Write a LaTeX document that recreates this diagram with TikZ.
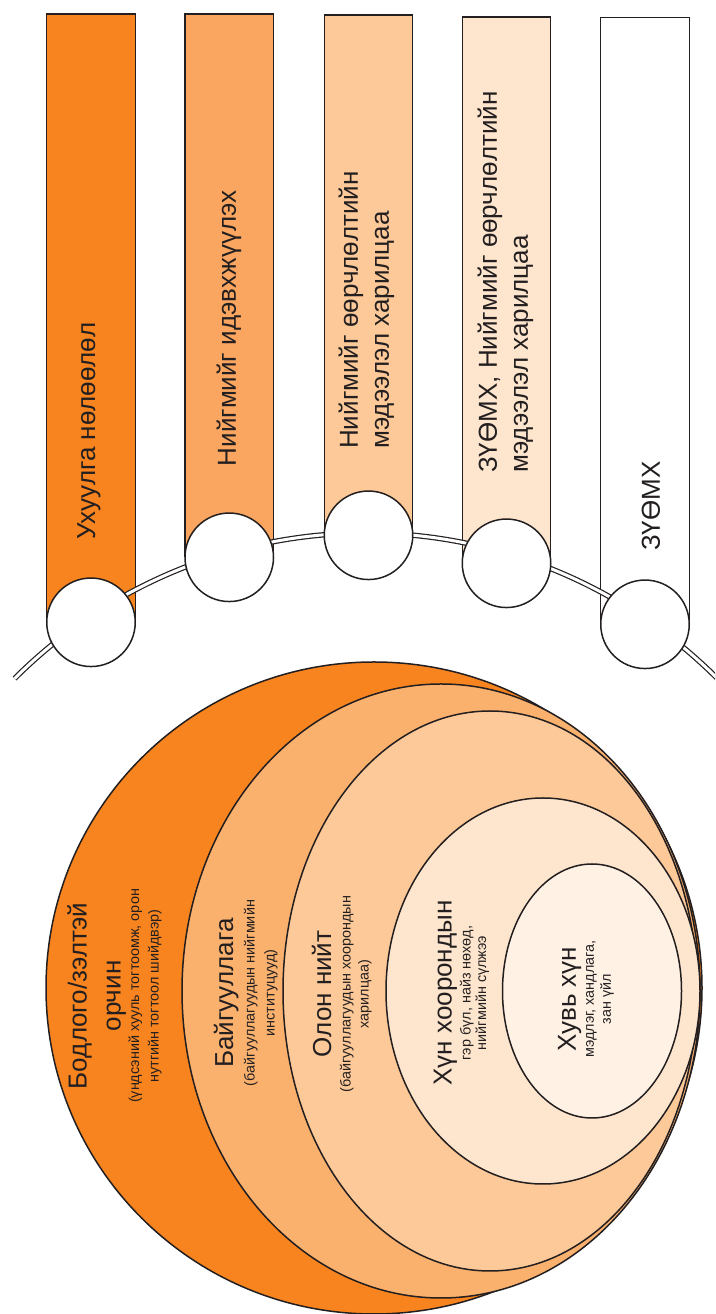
\documentclass[tikz,border=0pt]{standalone}
\usepackage{fontspec}
\setmainfont{Liberation Sans}
\usetikzlibrary{shapes.geometric}
\definecolor{inkline}{HTML}{231F20}
\definecolor{toneA}{HTML}{F7841F}
\definecolor{toneB}{HTML}{FBA660}
\definecolor{toneC}{HTML}{FDC998}
\definecolor{toneD}{HTML}{FEE6CE}
\definecolor{ringB}{HTML}{FBB16E}
\definecolor{ringE}{HTML}{FFF2E5}
\newcommand{\ringtitle}{\fontsize{26}{31}\selectfont}
\tikzset{bar/.style={draw=inkline,line width=1.3pt,minimum width=88.5pt,anchor=north,inner sep=0pt},
         joint/.style={circle,draw=inkline,fill=white,line width=1.5pt,minimum size=88.5pt,inner sep=0pt},
         rim/.style={draw=inkline,line width=1.2pt,double=white,double distance=3pt},
         ring/.style={ellipse,draw=inkline,line width=1.5pt,inner sep=0pt},
         bartext/.style={rotate=90,anchor=west,inner sep=0pt,align=left,text=inkline,
                         font={\lineskiplimit=-1000pt\fontsize{26}{31}\selectfont}},
         ringtext/.style={rotate=90,anchor=center,inner sep=0pt,align=center,text=inkline}}

\begin{document}
\begin{tikzpicture}[x=1pt,y=1pt]
  \useasboundingbox (0,0) rectangle (715,1314);
  \clip (0,0) rectangle (715,1314);

  % nested rings
  \node[ring,fill=toneA,minimum width=656pt,minimum height=652pt] (R1) at (374,326) {};
  \node[ring,fill=ringB,minimum width=518pt,minimum height=614pt] (R2) at (441,323) {};
  \node[ring,fill=toneC,minimum width=414pt,minimum height=560pt] (R3) at (490,323) {};
  \node[ring,fill=toneD,minimum width=314pt,minimum height=386pt] (R4) at (543,323) {};
  \node[ring,fill=ringE,minimum width=179pt,minimum height=254pt] (R5) at (592,323) {};

  \node[ringtext,font={\lineskiplimit=-1000pt\fontsize{14.4}{19.5}\selectfont}] (L1) at (114.5,318)
    {\ringtitle Бодлого/зэлтэй\\[14.5pt] \ringtitle орчин\\[-1pt] (үндсэний хууль тогтоомж, орон\\ нутгийн тогтоол шийдвэр)};
  \node[ringtext,font={\lineskiplimit=-1000pt\fontsize{14.4}{20}\selectfont}] (L2) at (245.7,321)
    {\ringtitle Байгууллага\\[1.5pt] (байгууллагуудын нийгмийн\\ институцууд)};
  \node[ringtext,font={\lineskiplimit=-1000pt\fontsize{14.4}{18}\selectfont}] (L3) at (341.7,320)
    {\ringtitle Олон нийт\\[1.5pt] (байгууллагуудын хоорондын\\ харилцаа)};
  \node[ringtext,font={\lineskiplimit=-1000pt\fontsize{14.4}{15.5}\selectfont}] (L4) at (461.5,321)
    {\ringtitle Хүн хоорондын\\[3.5pt] гэр бүл, найз нөхөд,\\ нийгмийн сүлжээ};
  \node[ringtext,font={\lineskiplimit=-1000pt\fontsize{14.4}{17}\selectfont}] (L5) at (586,315)
    {\ringtitle Хувь хүн\\[1pt] мэдлэг, хандлага,\\ зан үйл};

  % bars
  \node[bar,fill=toneA,minimum height=607.5pt] (bar1) at (91,1300.5) {};
  \node[bar,fill=toneB,minimum height=542.5pt] (bar2) at (229.25,1300.5) {};
  \node[bar,fill=toneC,minimum height=519.5pt] (bar3) at (368.5,1299.5) {};
  \node[bar,fill=toneD,minimum height=545.5pt] (bar4) at (506.5,1297.5) {};
  \node[bar,fill=white,minimum height=606pt] (bar5) at (645,1297) {};

  % double arc behind the joints
  \coordinate (hub) at (366,284);
  \draw[rim] (hub) ++(135:497) arc[start angle=135,end angle=43,radius=497];

  \node[joint] (j1) at (bar1.south) {};
  \node[joint] (j2) at (bar2.south) {};
  \node[joint] (j3) at (bar3.south) {};
  \node[joint] (j4) at (bar4.south) {};
  \node[joint] (j5) at (bar5.south) {};

  \node[bartext] (T1) at (89,774) {Ухуулга нөлөөлөл};
  \node[bartext] (T2) at (229,847.5) {Нийгмийг идэвхжүүлэх};
  \node[bartext] (T3) at (366.5,865) {Нийгмийг өөрчлөлтийн\\ мэдээлэл харилцаа};
  \node[bartext] (T4) at (505.5,841) {ЗҮӨМХ, Нийгмийг өөрчлөлтийн\\ мэдээлэл харилцаа};
  \node[bartext] (T5) at (651,763) {ЗҮӨМХ};
\end{tikzpicture}
\end{document}
